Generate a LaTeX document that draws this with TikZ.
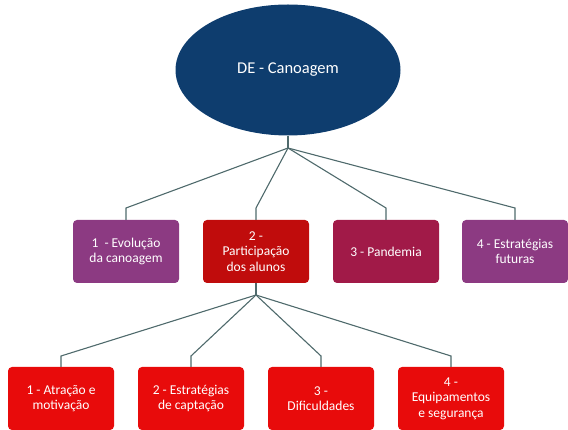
\documentclass[tikz,border=0pt]{standalone}
\usepackage{fontspec}
\setmainfont{Carlito}
\usetikzlibrary{shapes.geometric}
\definecolor{navy}{HTML}{0E3D6E}
\definecolor{plum}{HTML}{8C3A82}
\definecolor{darkred}{HTML}{C00C0C}
\definecolor{crimson}{HTML}{A11A48}
\definecolor{brightred}{HTML}{E80B0B}
\definecolor{linkgrey}{HTML}{4F6A6C}
\tikzset{
  topic/.style={rectangle, rounded corners=4pt, minimum width=106pt,
    minimum height=63pt, inner sep=2pt, text=white, align=center,
    font=\fontsize{13.5}{15.5}\selectfont},
  link/.style={draw=linkgrey, line width=1.1pt}
}
\begin{document}
\begin{tikzpicture}[x=1pt,y=-1pt]
      \useasboundingbox (0,0) rectangle (568,430);
      \draw
        (288,70) node[ellipse, fill=navy, inner sep=0pt, minimum width=225pt,
          minimum height=131pt, text=white, font=\fontsize{16.5}{19}\selectfont] (root){DE - Canoagem}
        (126,251.5) node[topic, fill=plum] (a1){1\ \ - Evolução\\da canoagem}
        (256,251.5) node[topic, fill=darkred] (a2){2 -\\Participação\\dos alunos}
        (386,251.5) node[topic, fill=crimson] (a3){3 - Pandemia}
        (515,251.5) node[topic, fill=plum] (a4){4 - Estratégias\\futuras}
        (61,398.5) node[topic, fill=brightred] (b1){1 - Atração e\\motivação}
        (191,398.5) node[topic, fill=brightred] (b2){2 - Estratégias\\de captação}
        (321,398.5) node[topic, fill=brightred] (b3){3 -\\Dificuldades}
        (451,398.5) node[topic, fill=brightred] (b4){4 -\\Equipamentos\\e segurança};
      % junctions and bends
      \coordinate (j1) at (288,148);
      \coordinate (j2) at (256,295);
      \begin{scope}[link]
        \draw (root.south) -- (j1);
        \draw (j1) -- (126,208) -- (a1.north);
        \draw (j1) -- (256,208) -- (a2.north);
        \draw (j1) -- (386,208) -- (a3.north);
        \draw (j1) -- (515,208) -- (a4.north);
        \draw (a2.south) -- (j2);
        \draw (j2) -- (61,356) -- (b1.north);
        \draw (j2) -- (191,356) -- (b2.north);
        \draw (j2) -- (321,356) -- (b3.north);
        \draw (j2) -- (451,356) -- (b4.north);
      \end{scope}
    \end{tikzpicture}
\end{document}
